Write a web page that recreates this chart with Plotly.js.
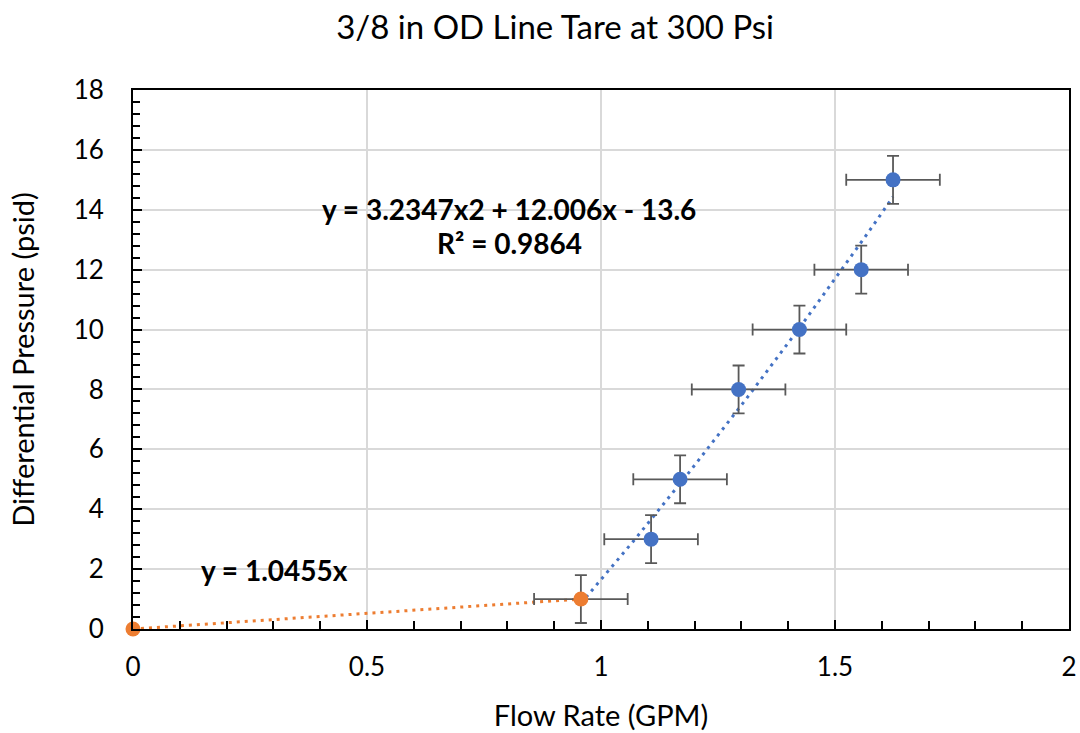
<!DOCTYPE html>
<html>
<head>
<meta charset="utf-8">
<script src="https://cdn.plot.ly/plotly-3.0.1.min.js"></script>
<style>html,body{margin:0;padding:0;background:#fff;}#chart{width:1080px;height:733px;}</style>
</head>
<body>
<div id="chart"></div>
<script>
// Data
const blueFlow = [0.957, 1.107, 1.169, 1.294, 1.424, 1.556, 1.624];
const bluePressure = [1, 3, 5, 8, 10, 12, 15];
const orangeFlow = [0, 0.957];
const orangePressure = [0, 1];
const flowError = 0.1;
const pressureError = 0.8;
// Trendline coefficients from the chart labels
const polyCoefs = [3.2347, 12.006, -13.6];   // a*x^2 + b*x + c
const linearSlope = 1.0455;
const xTicks = [0, 0.5, 1, 1.5, 2];
const yTicks = [0, 2, 4, 6, 8, 10, 12, 14, 16, 18];

const FONT = 'Lato, "Liberation Sans", sans-serif';

// trendline samples
const polyX = [], polyY = [];
const x0 = Math.min(...blueFlow), x1 = Math.max(...blueFlow);
for (let i = 0; i <= 60; i++) {
  const x = x0 + (x1 - x0) * i / 60;
  polyX.push(x);
  polyY.push(polyCoefs[0] * x * x + polyCoefs[1] * x + polyCoefs[2]);
}
const linX = [orangeFlow[0], orangeFlow[orangeFlow.length - 1]];
const linY = linX.map(x => linearSlope * x);

const errStyle = {color: '#595959', thickness: 1.8, width: 6};

const traces = [
  {x: polyX, y: polyY, mode: 'lines', line: {color: '#4472C4', width: 3, dash: '3px,5px'}, hoverinfo: 'skip'},
  {x: linX, y: linY, mode: 'lines', line: {color: '#ED7D31', width: 3, dash: '3px,5px'}, hoverinfo: 'skip'},
  {x: blueFlow.slice(1), y: bluePressure.slice(1), mode: 'markers', type: 'scatter', cliponaxis: false,
   marker: {color: '#4472C4', size: 15},
   error_x: Object.assign({type: 'constant', value: flowError}, errStyle),
   error_y: Object.assign({type: 'constant', value: pressureError}, errStyle)},
  {x: orangeFlow, y: orangePressure, mode: 'markers', type: 'scatter', cliponaxis: false,
   marker: {color: '#ED7D31', size: 15},
   error_x: Object.assign({type: 'data', array: [0, flowError]}, errStyle),
   error_y: Object.assign({type: 'data', array: [0, pressureError]}, errStyle)}
];

const layout = {
  width: 1080, height: 733,
  margin: {l: 133, r: 11, t: 90, b: 104},
  paper_bgcolor: '#fff', plot_bgcolor: '#fff',
  showlegend: false,
  font: {family: FONT, color: '#000'},
  title: {text: '3/8 in OD Line Tare at 300 Psi', font: {size: 33, family: FONT, color: '#000'},
          x: 0.514, xanchor: 'center', y: 0.962, yanchor: 'middle'},
  xaxis: {
    range: [0, 2], tickvals: xTicks, ticktext: xTicks.map(String),
    showgrid: true, gridcolor: '#d9d9d9', gridwidth: 2,
    showline: true, linecolor: '#000', linewidth: 2, mirror: true,
    ticks: 'inside', ticklen: 9, tickwidth: 2, tickcolor: '#000',
    minor: {dtick: 0.1, ticks: 'inside', ticklen: 8, tickwidth: 2, tickcolor: '#000', showgrid: false},
    tickfont: {size: 26, family: FONT, color: '#000'},
    ticklabelstandoff: 14,
    zeroline: false, fixedrange: true,
    title: {text: 'Flow Rate (GPM)', font: {size: 29, family: FONT, color: '#000'}, standoff: 24}
  },
  yaxis: {
    range: [0, 18], tickvals: yTicks, ticktext: yTicks.map(String),
    showgrid: true, gridcolor: '#d9d9d9', gridwidth: 2,
    showline: true, linecolor: '#000', linewidth: 2, mirror: true,
    ticks: 'inside', ticklen: 9, tickwidth: 2, tickcolor: '#000',
    minor: {dtick: 0.4, ticks: 'inside', ticklen: 7, tickwidth: 2, tickcolor: '#000', showgrid: false},
    tickfont: {size: 26, family: FONT, color: '#000'},
    ticklabelstandoff: 22,
    zeroline: false, fixedrange: true,
    title: {text: 'Differential Pressure (psid)', font: {size: 29, family: FONT, color: '#000'}, standoff: 30}
  },
  annotations: [
    {text: '<b>y = 3.2347x2 + 12.006x - 13.6</b>', x: 509, y: 209, xref: 'paper', yref: 'paper',
     showarrow: false, xanchor: 'center', yanchor: 'middle', font: {size: 28, family: FONT, color: '#000'}},
    {text: '<b>R² = 0.9864</b>', x: 509, y: 243, xref: 'paper', yref: 'paper',
     showarrow: false, xanchor: 'center', yanchor: 'middle', font: {size: 28, family: FONT, color: '#000'}},
    {text: '<b>y = 1.0455x</b>', x: 274, y: 570, xref: 'paper', yref: 'paper',
     showarrow: false, xanchor: 'center', yanchor: 'middle', font: {size: 28, family: FONT, color: '#000'}}
  ]
};
// convert pixel positions of annotations into paper coords
const pw = 1080 - 133 - 11, ph = 733 - 90 - 104;
layout.annotations.forEach(a => { a.x = (a.x - 133) / pw; a.y = 1 - (a.y - 90) / ph; });

Plotly.newPlot('chart', traces, layout, {displayModeBar: false, staticPlot: true});
</script>
</body>
</html>
